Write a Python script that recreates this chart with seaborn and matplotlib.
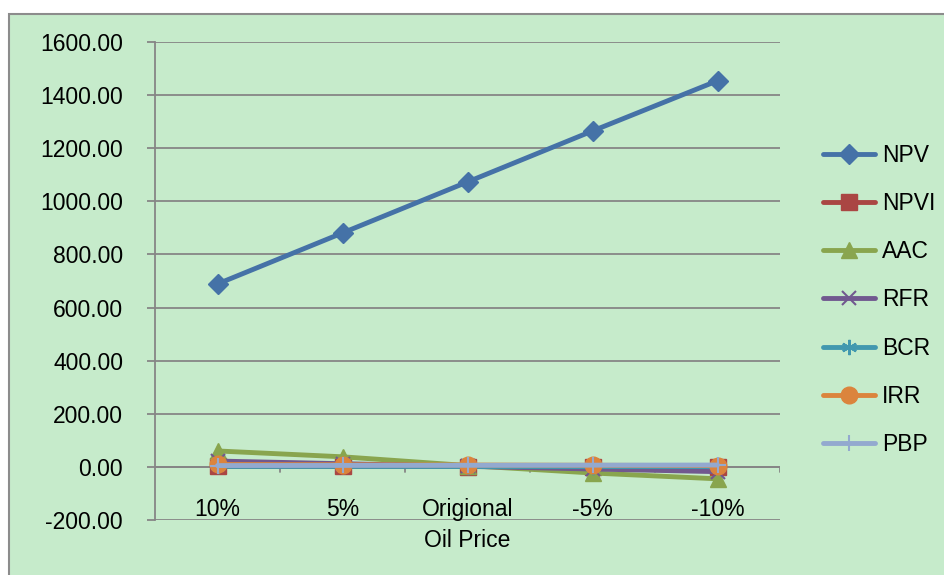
import matplotlib
matplotlib.use("Agg")
import matplotlib.pyplot as plt
import matplotlib.patches as mpatches
import seaborn as sns
import pandas as pd

categories = ["10%", "5%", "Origional\nOil Price", "-5%", "-10%"]
npv = [689, 881, 1073, 1265, 1454]
npvi = [1.8, 1.6, 1.4, 1.2, 1.0]
aac = [60, 38, 5, -23, -45]
rfr = [22, 12, 2, -8, -18]
bcr = [1.6, 1.5, 1.4, 1.3, 1.2]
irr = [9, 8, 7, 6, 5]
pbp = [5, 5.5, 6, 6.5, 7]

series = [("NPV", npv), ("NPVI", npvi), ("AAC", aac), ("RFR", rfr),
          ("BCR", bcr), ("IRR", irr), ("PBP", pbp)]
colors = ["#4572A7", "#AA4643", "#89A54E", "#71588F", "#4198AF", "#DB843D", "#93A9CF"]
markers = ["D", "s", "^", "x", (6, 2, 0), "o", "+"]
msizes = [10, 11, 12, 10, 11, 12, 12]

sns.set_style("white")
plt.rcParams["font.family"] = ["Liberation Sans", "DejaVu Sans"]
plt.rcParams["text.color"] = "black"
plt.rcParams["ytick.labelcolor"] = "black"

FS = 16.5
green = "#C6EBCB"
fig = plt.figure(figsize=(9.44, 5.75), dpi=100, facecolor="white")
fig.patches.append(mpatches.Rectangle((9 / 944, -0.05), 1.0, 1 - 14 / 575 + 0.05,
                                      transform=fig.transFigure, facecolor=green,
                                      edgecolor="#8C8C8C", linewidth=1.5, zorder=-10))
ax = fig.add_axes([155 / 944, 1 - 520 / 575, (780 - 155) / 944, (520 - 42) / 575])
ax.set_zorder(1)
ax.set_facecolor(green)

rows = []
for name, vals in series:
    for i, v in enumerate(vals):
        rows.append({"series": name, "x": i, "value": v})
df = pd.DataFrame(rows)

for (name, _), c, m, ms in zip(series, colors, markers, msizes):
    sub = df[df["series"] == name]
    sns.lineplot(data=sub, x="x", y="value", ax=ax, color=c, marker=m,
                 markersize=ms, linewidth=3.5, label=name, sort=False,
                 markeredgecolor=c, markeredgewidth=1.5 if m in ("x", "+") or isinstance(m, tuple) else 1,
                 zorder=3)

ax.set_xlim(-0.5, 4.5)
ax.set_ylim(-200, 1600)
ax.set_yticks(range(-200, 1601, 200))
ax.set_yticklabels([f"{v:.2f}" for v in range(-200, 1601, 200)], fontsize=FS, color="black")
ax.yaxis.grid(True, color="#868686", linewidth=1.3)
ax.set_axisbelow(True)
ax.tick_params(axis="y", length=6, color="#868686", width=1.3, pad=17, direction="out", left=True)
ax.set_xticks([])
ax.set_xlabel("")
ax.set_ylabel("")
for s in ["top", "right", "bottom"]:
    ax.spines[s].set_visible(False)
ax.spines["left"].set_color("#868686")
ax.spines["left"].set_linewidth(1.3)

ax.axhline(0, color="#868686", linewidth=1.3, zorder=2)
for b in [0.5, 1.5, 2.5, 3.5, 4.5]:
    ax.plot([b, b], [0, -20], color="#868686", linewidth=1.3, zorder=2)

for i, lab in enumerate(categories):
    ax.text(i, -118, lab, ha="center", va="top", fontsize=FS, linespacing=1.45,
            clip_on=False, color="black")

ax.legend(loc="center left", bbox_to_anchor=(802 / 944, 1 - 300 / 575),
          bbox_transform=fig.transFigure, frameon=False, fontsize=FS,
          labelspacing=1.1, handlelength=2.3, handletextpad=0.3)

fig.savefig("out.png", dpi=100, facecolor="white")
